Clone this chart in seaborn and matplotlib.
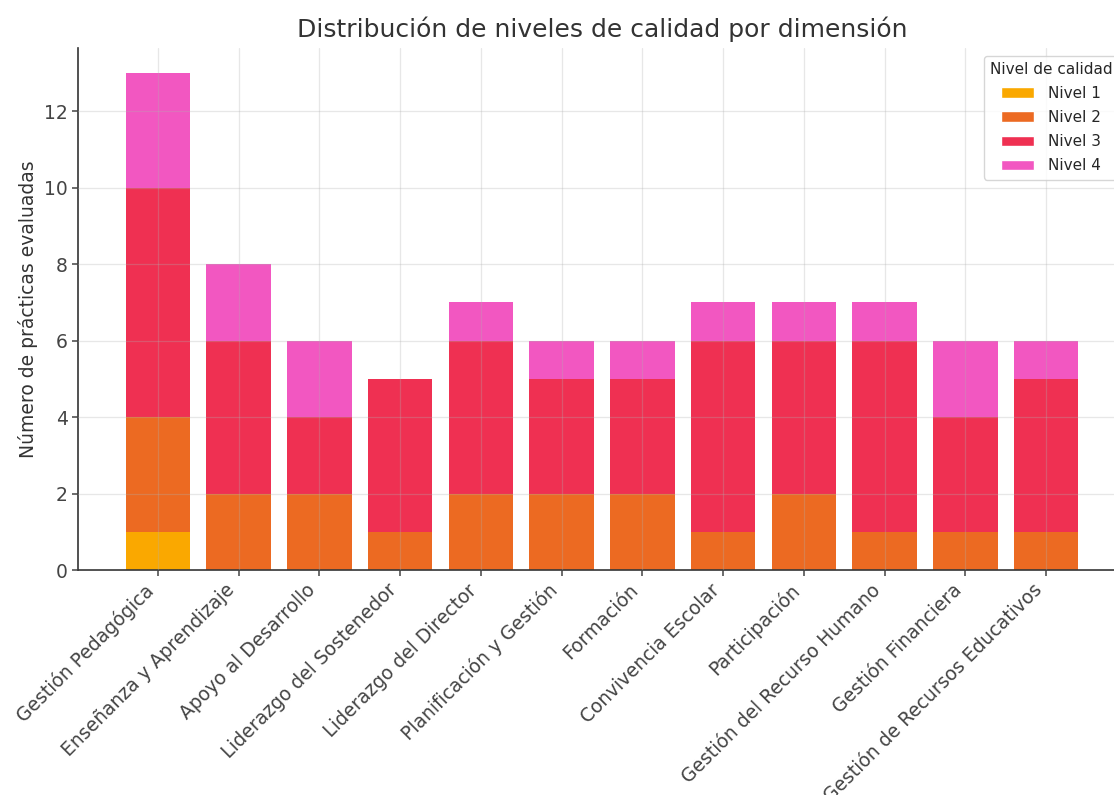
import matplotlib
matplotlib.use("Agg")
import matplotlib.pyplot as plt
from matplotlib.patches import Patch
import numpy as np
import seaborn as sns

# Dimensiones evaluadas y número de prácticas por nivel de calidad
dimensiones = [
    "Gestión Pedagógica",
    "Enseñanza y Aprendizaje",
    "Apoyo al Desarrollo",
    "Liderazgo del Sostenedor",
    "Liderazgo del Director",
    "Planificación y Gestión",
    "Formación",
    "Convivencia Escolar",
    "Participación",
    "Gestión del Recurso Humano",
    "Gestión Financiera",
    "Gestión de Recursos Educativos",
]
nivel_1 = [1, 0, 0, 0, 0, 0, 0, 0, 0, 0, 0, 0]
nivel_2 = [3, 2, 2, 1, 2, 2, 2, 1, 2, 1, 1, 1]
nivel_3 = [6, 4, 2, 4, 4, 3, 3, 5, 4, 5, 3, 4]
nivel_4 = [3, 2, 2, 0, 1, 1, 1, 1, 1, 1, 2, 1]

niveles = ["Nivel 1", "Nivel 2", "Nivel 3", "Nivel 4"]
colores = ["#FAA800", "#EC6A22", "#EF3052", "#F257C1"]

sns.set_style("white")
plt.rcParams["font.family"] = ["DejaVu Sans"]

fig = plt.figure(figsize=(11.14, 7.95), dpi=100)
ax = fig.add_axes([0.070, 0.283, 0.9408, 0.6566])

# Stacked bars: draw cumulative totals from the top level downwards
series = np.array([nivel_1, nivel_2, nivel_3, nivel_4])
acumulado = np.cumsum(series, axis=0)
for i in range(len(niveles) - 1, -1, -1):
    sns.barplot(
        x=dimensiones,
        y=acumulado[i],
        color=colores[i],
        saturation=1,
        width=0.8,
        linewidth=0,
        errorbar=None,
        ax=ax,
    )

# Matplotlib-style x limits with 5% margins around the bars
n = len(dimensiones)
span = (n - 1) + 0.8
ax.set_xlim(-0.4 - 0.05 * span, (n - 1) + 0.4 + 0.05 * span)
ax.set_ylim(0, acumulado[-1].max() * 1.05)
ax.set_yticks(range(0, 13, 2))

ax.set_axisbelow(False)
ax.grid(True, axis="both", color="#b0b0b0", alpha=0.3, linewidth=0.9)

for side in ["top", "right"]:
    ax.spines[side].set_visible(False)
for side in ["left", "bottom"]:
    ax.spines[side].set_color("#333333")
    ax.spines[side].set_linewidth(1.2)

ax.tick_params(axis="both", which="major", labelsize=13.5, colors="#444444",
               length=4, width=1.1, direction="out", bottom=True, left=True)
plt.setp(ax.get_xticklabels(), rotation=45, ha="right")

ax.set_xlabel("")
ax.set_ylabel("Número de prácticas evaluadas", fontsize=13.5, color="#333333")
ax.set_title("Distribución de niveles de calidad por dimensión",
             fontsize=18, color="#333333", pad=8)

handles = [Patch(facecolor=c, label=l) for c, l in zip(colores, niveles)]
ax.legend(handles=handles, title="Nivel de calidad", loc="upper right",
          fontsize=11, title_fontsize=11, frameon=True,
          labelspacing=0.6, handlelength=2.2, handletextpad=0.9)

fig.savefig("out.png", dpi=100)
